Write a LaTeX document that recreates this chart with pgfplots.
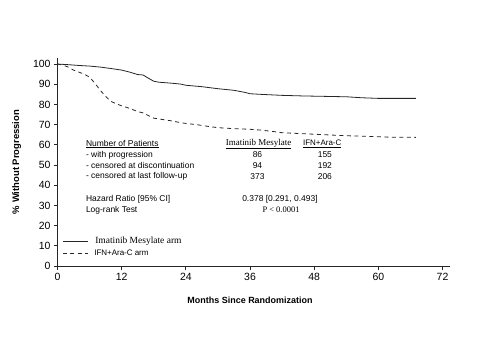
\documentclass[border=0pt]{standalone}
\usepackage{fontspec}
\setmainfont{Liberation Serif}
\setsansfont{Liberation Sans}
\usepackage{pgfplots}
\pgfplotsset{compat=1.18}
\begin{document}
\begin{tikzpicture}
\begin{axis}[
  scale only axis, width=392.5bp, height=208bp,
  xmin=0, xmax=73.4, ymin=0, ymax=103,
  axis x line=bottom, axis y line=left,
  axis line style={-, line width=0.9pt, black!85},
  xtick={0,12,...,72}, ytick={0,10,...,100},
  tick align=outside, major tick length=3.5bp,
  tick style={line width=0.8pt, black!85},
  /pgf/number format/assume math mode=true,
  ticklabel style={font=\fontsize{10.5}{12}\selectfont\sffamily},
  xlabel={\fontsize{9}{11}\selectfont\sffamily\bfseries Months Since Randomization},
  ylabel={\fontsize{9.5}{11}\selectfont\sffamily\bfseries \% Without Progression},
  xlabel style={at={(axis cs:36,0)}, yshift=-27bp},
  ylabel style={yshift=5bp},
  legend style={draw=none, fill=none, at={(axis cs:0.9,3.3)}, anchor=south west,
    row sep=1bp, inner sep=0pt},
  legend cell align=left,
  legend image code/.code={\draw[#1] (0bp,0bp) -- (25bp,0bp);},
  clip=false,
]
\addplot[black!85, line width=0.8pt] coordinates {
(0,100) (2,99.7) (4,99.3) (6,99) (8,98.5) (10,97.8) (12,97) (13.5,96) (15,94.8) (16,94.6) (17,93) (18,91.5) (19,91) (21,90.6) (23,90.1) (24,89.5) (27,88.8) (30,87.8) (33,87) (35,86) (36,85.3) (38,85) (42,84.5) (46,84.2) (50,84) (54,83.8) (57,83.3) (60,83) (67,83)
};
\addlegendentry{\hspace*{5bp}\fontsize{9.5}{11}\selectfont\rmfamily Imatinib Mesylate arm}
\addplot[black!85, line width=0.8pt, dash pattern=on 4bp off 3.5bp] coordinates {
(0,100) (1,99.5) (2,98.5) (3,97) (4,96) (5,95) (6,93.5) (7,90.5) (8,87) (9,84) (10,81.5) (11,80.3) (12,79.3) (13,78.5) (14,77.5) (15,76.5) (16,75.8) (17,74.5) (18,73.2) (19,72.8) (21,72) (23,71) (24,70.6) (26,70) (28,69.2) (30,68.5) (33,68) (36,67.7) (38,67.3) (40,66.7) (42,66) (46,65.5) (50,65) (54,64.5) (58,64.2) (62,63.8) (67,63.7)
};
\addlegendentry{\hspace*{4bp}\fontsize{8}{10}\selectfont\sffamily IFN+Ara-C arm}

\begin{scope}[every node/.style={font=\fontsize{8.5}{10}\selectfont\sffamily, inner sep=0pt}]
\node[anchor=west] at (axis cs:5.3,60.4) {\underline{Number of Patients}};
\node[anchor=west] at (axis cs:5.3,55.0) {- with progression};
\node[anchor=west] at (axis cs:5.3,49.7) {- censored at discontinuation};
\node[anchor=west] at (axis cs:5.3,44.2) {- censored at last follow-up};
\node[anchor=west] at (axis cs:5.3,33.2) {Hazard Ratio [95\% CI]};
\node[anchor=west] at (axis cs:5.3,27.7) {Log-rank Test};
\node[font=\fontsize{9}{11}\selectfont\rmfamily] at (axis cs:37.6,60.4) {\underline{Imatinib Mesylate}};
\node[font=\fontsize{8}{10}\selectfont\sffamily] at (axis cs:49.5,60.4) {\underline{IFN+Ara-C}};
\node at (axis cs:37.4,55.0) {86};
\node at (axis cs:37.4,49.7) {94};
\node at (axis cs:37.4,44.2) {373};
\node at (axis cs:50.0,55.0) {155};
\node at (axis cs:50.0,49.7) {192};
\node at (axis cs:50.0,44.2) {206};
\node at (axis cs:41.6,33.2) {0.378 [0.291, 0.493]};
\node[font=\fontsize{8.5}{10}\selectfont\rmfamily] at (axis cs:41.8,27.7) {P < 0.0001};
\end{scope}
\end{axis}
\path[use as bounding box] (-57.5bp,-75bp) rectangle (436.5bp,266bp);
\end{tikzpicture}
\end{document}
